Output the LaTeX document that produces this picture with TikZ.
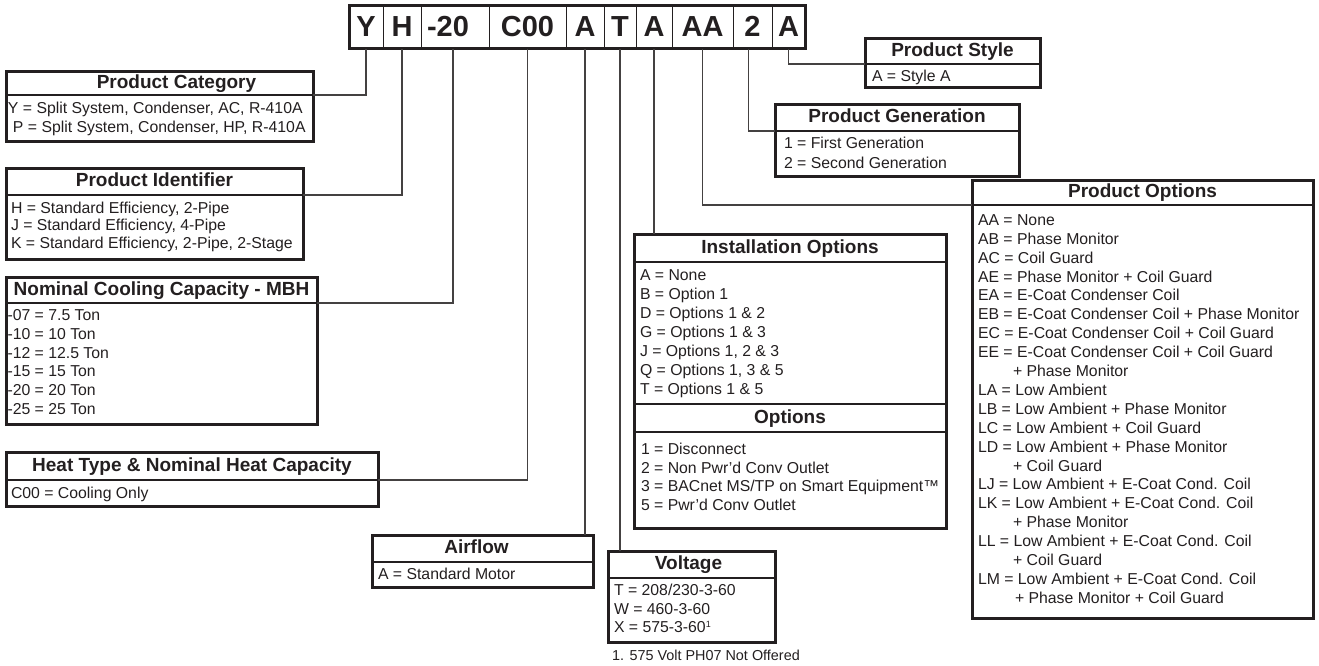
\documentclass[tikz,border=0pt]{standalone}
\usepackage{fontspec}
\setmainfont{Liberation Sans}
\usepackage{xcolor}
\usetikzlibrary{positioning}
\definecolor{ink}{HTML}{231F20}

\tikzset{
  cell/.style={draw=ink, line width=1pt, minimum height=43pt, inner sep=0pt, outer sep=0pt,
    font=\bfseries\fontsize{29}{29}\selectfont, text height=21pt, text depth=2pt, text=ink},
  boxtitle/.style={anchor=north west, inner sep=0pt, outer sep=0pt,
    font=\bfseries\fontsize{19}{19}\selectfont, text height=14pt, text depth=4pt, text=ink},
  boxbody/.style={anchor=north west, inner xsep=6pt, inner ysep=7pt, outer sep=0pt, align=left,
    font=\fontsize{15.8}{18.9}\selectfont, text=ink},
  frame/.style={draw=ink, line width=3pt},
  rule/.style={draw=ink, line width=1.5pt},
  link/.style={draw=ink!85, line width=1.3pt},
}

\begin{document}
\begin{tikzpicture}[x=1pt, y=-1pt]
	\useasboundingbox (0,0) rectangle (1319,666);
	% model number cells
	\node[cell, minimum width=34pt, anchor=north west] (cY) at (349,6) {Y};
	\node[cell, minimum width=38pt, right=0pt of cY] (cH) {H};
	\node[cell, minimum width=68pt, right=0pt of cH] (c20) {-20\hspace*{14pt}};
	\node[cell, minimum width=77pt, right=0pt of c20] (cC) {C00};
	\node[cell, minimum width=38pt, right=0pt of cC] (cA) {A};
	\node[cell, minimum width=32pt, right=0pt of cA] (cT) {T};
	\node[cell, minimum width=36pt, right=0pt of cT] (cI) {A};
	\node[cell, minimum width=61pt, right=0pt of cI] (cAA) {AA};
	\node[cell, minimum width=39pt, right=0pt of cAA] (cG) {2};
	\node[cell, minimum width=33pt, right=0pt of cG] (cS) {A};
	\draw[frame] (cY.north west) rectangle (cS.south east);
	
	% product category
	\node[boxtitle, minimum width=307pt, minimum height=23pt] (catT) at (6,72) {\hspace*{34pt}Product Category};
	\node[boxbody, inner xsep=2pt, inner ysep=7.5pt] (catB) at (catT.south west) {Y = Split System, Condenser, AC, R-410A\\\hspace*{5pt}P = Split System, Condenser, HP, R-410A};
	\draw[rule] (catT.south west) -- (catT.south east);
	\draw[frame] (6,72) rectangle (313,141);
	
	% product identifier
	\node[boxtitle, minimum width=297pt, minimum height=27pt] (idT) at (6,168) {Product Identifier};
	\node[boxbody, inner xsep=5pt, font=\fontsize{15.8}{17.5}\selectfont] (idB) at (idT.south west) {H = Standard Efficiency, 2-Pipe\\J = Standard Efficiency, 4-Pipe\\K = Standard Efficiency, 2-Pipe, 2-Stage};
	\draw[rule] (idT.south west) -- (idT.south east);
	\draw[frame] (6,168) rectangle (303,259);
	
	% nominal cooling capacity
	\node[boxtitle, minimum width=311pt, minimum height=26pt] (coolT) at (6,277) {Nominal Cooling Capacity - MBH};
	\node[boxbody, inner xsep=1.5pt, inner ysep=6.5pt, font=\fontsize{15.8}{18.8}\selectfont] (coolB) at (coolT.south west) {-07 = 7.5 Ton\\-10 = 10 Ton\\-12 = 12.5 Ton\\-15 = 15 Ton\\-20 = 20 Ton\\-25 = 25 Ton};
	\draw[rule] (coolT.south west) -- (coolT.south east);
	\draw[frame] (6,277) rectangle (317,424);
	
	% heat type
	\node[boxtitle, minimum width=372pt, minimum height=28pt] (heatT) at (6,452) {Heat Type \& Nominal Heat Capacity};
	\node[boxbody, inner xsep=5pt, inner ysep=7.5pt] (heatB) at (heatT.south west) {C00 = Cooling Only};
	\draw[rule] (heatT.south west) -- (heatT.south east);
	\draw[frame] (6,452) rectangle (378,506);
	
	% airflow
	\node[boxtitle, minimum width=221pt, minimum height=27pt] (airT) at (372,535) {Airflow\hspace*{12pt}};
	\node[boxbody, inner ysep=6.5pt] (airB) at (airT.south west) {A = Standard Motor};
	\draw[rule] (airT.south west) -- (airT.south east);
	\draw[frame] (372,535) rectangle (593,587);
	
	% voltage
	\node[boxtitle, minimum width=167pt, minimum height=27pt] (voltT) at (608,551) {Voltage\hspace*{6pt}};
	\node[boxbody, inner ysep=6.5pt, font=\fontsize{15.8}{18.5}\selectfont] (voltB) at (voltT.south west) {T = 208/230-3-60\\W = 460-3-60\\X = 575-3-60\textsuperscript{\fontsize{9}{9}\selectfont 1}};
	\draw[rule] (voltT.south west) -- (voltT.south east);
	\draw[frame] (608,551) rectangle (775,642);
	\node[anchor=base west, inner sep=0pt, text=ink, font=\fontsize{14.4}{14.4}\selectfont] (vnote) at (612,660) {1. 575 Volt PH07 Not Offered};
	
	% installation options
	\node[boxtitle, minimum width=312pt, minimum height=28pt] (instT) at (634,234) {Installation Options};
	\node[boxbody, inner ysep=7.5pt, font=\fontsize{15.8}{19}\selectfont] (instB) at (instT.south west) {A = None\\B = Option 1\\D = Options 1 \& 2\\G = Options 1 \& 3\\J = Options 1, 2 \& 3\\Q = Options 1, 3 \& 5\\T = Options 1 \& 5};
	\node[boxtitle, minimum width=312pt, minimum height=28pt] (subT) at (634,404) {Options};
	\node[boxbody, inner xsep=7pt, inner ysep=11pt, font=\fontsize{15.8}{18.7}\selectfont] (subB) at (subT.south west) {1 = Disconnect\\2 = Non Pwr’d Conv Outlet\\3 = BACnet MS/TP on Smart Equipment™\\5 = Pwr’d Conv Outlet};
	\draw[rule] (instT.south west) -- (instT.south east);
	\draw[rule] (subT.north west) -- (subT.north east);
	\draw[rule] (subT.south west) -- (subT.south east);
	\draw[frame] (634,234) rectangle (946,528);
	
	% product options
	\node[boxtitle, minimum width=341pt, minimum height=25pt] (optT) at (972,180) {Product Options};
	\node[boxbody, inner ysep=9.5pt] (optB) at (optT.south west) {AA = None\\AB = Phase Monitor\\AC = Coil Guard\\AE = Phase Monitor + Coil Guard\\EA = E-Coat Condenser Coil\\EB = E-Coat Condenser Coil + Phase Monitor\\EC = E-Coat Condenser Coil + Coil Guard\\EE = E-Coat Condenser Coil + Coil Guard\\\hspace*{35pt}+ Phase Monitor\\LA = Low Ambient\\LB = Low Ambient + Phase Monitor\\LC = Low Ambient + Coil Guard\\LD = Low Ambient + Phase Monitor\\\hspace*{35pt}+ Coil Guard\\LJ = Low Ambient + E-Coat Cond. Coil\\LK = Low Ambient + E-Coat Cond. Coil\\\hspace*{35pt}+ Phase Monitor\\LL = Low Ambient + E-Coat Cond. Coil\\\hspace*{35pt}+ Coil Guard\\LM = Low Ambient + E-Coat Cond. Coil\\\hspace*{37pt}+ Phase Monitor + Coil Guard};
	\draw[rule] (optT.south west) -- (optT.south east);
	\draw[frame] (972,180) rectangle (1313,618);
	
	% product generation
	\node[boxtitle, minimum width=244pt, minimum height=26pt] (genT) at (775,105) {Product Generation};
	\node[boxbody, inner xsep=9pt, inner ysep=6.5pt, font=\fontsize{15.8}{20}\selectfont] (genB) at (genT.south west) {1 = First Generation\\2 = Second Generation};
	\draw[rule] (genT.south west) -- (genT.south east);
	\draw[frame] (775,105) rectangle (1019,176);
	
	% product style
	\node[boxtitle, minimum width=175pt, minimum height=25pt] (styT) at (865,39) {Product Style};
	\node[boxbody, inner xsep=7pt, inner ysep=6.5pt] (styB) at (styT.south west) {A = Style A};
	\draw[rule] (styT.south west) -- (styT.south east);
	\draw[frame] (865,39) rectangle (1040,88);
	
	% connectors
	\draw[link] (cY.south) |- (catT.south east);
	\draw[link] (cH.south) |- (idT.south east);
	\draw[link] ([xshift=-2pt]c20.south) |- (coolT.south east);
	\draw[link] (cC.south) |- (heatT.south east);
	\draw[link] (cA.south) -- (cA.south |- airT.north);
	\draw[link] (cT.south) -- (cT.south |- voltT.north);
	\draw[link] (cI.south) -- (cI.south |- instT.north);
	\draw[link] (cAA.south) |- (optT.south west);
	\draw[link] ([xshift=-4pt]cG.south) |- (genT.south west);
	\draw[link] (cS.south) |- (styT.south west);
\end{tikzpicture}
\end{document}
